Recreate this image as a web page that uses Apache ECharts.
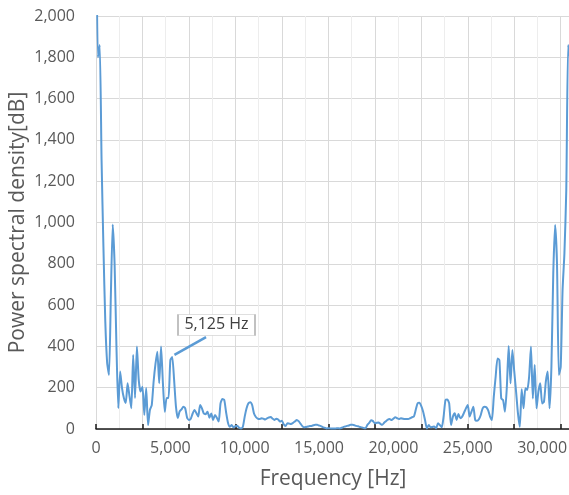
<!DOCTYPE html>
<html><head><meta charset="utf-8">
<script src="https://cdn.jsdelivr.net/npm/echarts@6/dist/echarts.min.js"></script>
<style>html,body{margin:0;padding:0;background:#fff}#chart{width:569px;height:495px}</style>
</head><body><div id="chart"></div>
<script>
// FFT bin width (Hz) – 256 bins, 0 … 31,875 Hz
const binWidthHz = 125;

// Power spectral density, 64 bins per block
const psdBins0to63 = [
  2600, 1800, 1860, 1300, 880, 520, 320, 262, 650, 990,
  800, 400, 100, 278, 198, 150, 126, 222, 160, 100,
  358, 150, 399, 237, 181, 205, 68, 198, 19, 92,
  116, 230, 315, 374, 222, 399, 222, 84, 150, 150,
  334, 349, 240, 110, 53, 85, 95, 108, 100, 55,
  44, 50, 75, 92, 77, 60, 116, 100, 75, 72,
  84, 55, 75, 44
];
const psdBins64to127 = [
  68, 55, 36, 124, 145, 140, 80, 30, 11, 19,
  8, 14, 16, 6, 3, 11, 60, 100, 125, 130,
  116, 75, 58, 50, 48, 52, 50, 46, 52, 56,
  58, 50, 44, 50, 46, 36, 40, 22, 15, 28,
  26, 24, 30, 36, 44, 38, 26, 14, 8, 10,
  12, 14, 15, 18, 20, 20, 17, 14, 9, 6,
  3, 4, 3, 2
];
const psdBins128to191 = [
  3, 3, 4, 3, 5, 9, 12, 15, 17, 20,
  20, 18, 15, 13, 10, 8, 5, 4, 20, 30,
  42, 38, 28, 30, 32, 25, 20, 30, 38, 46,
  48, 44, 50, 57, 52, 48, 52, 50, 48, 48,
  48, 52, 57, 60, 92, 124, 127, 111, 84, 44,
  3, 19, 8, 10, 12, 3, 28, 19, 8, 60,
  140, 143, 124, 19
];
const psdBins192to255 = [
  60, 76, 44, 73, 52, 60, 79, 100, 116, 60,
  84, 108, 44, 40, 47, 68, 100, 108, 105, 90,
  60, 44, 157, 253, 342, 334, 148, 140, 84, 200,
  402, 221, 382, 280, 180, 76, 11, 193, 100, 197,
  189, 253, 399, 148, 310, 100, 181, 221, 124, 132,
  229, 278, 100, 300, 754, 988, 803, 262, 300, 673,
  851, 1157, 1860, 1800
];

const xTickLabels = ['0', '5,000', '10,000', '15,000', '20,000', '25,000', '30,000'];
const yTickLabels = ['0', '200', '400', '600', '800', '1,000', '1,200', '1,400', '1,600', '1,800', '2,000'];

const annotationText = '5,125 Hz';
const annotatedPeak = [5125, 349];

const psd = [].concat(psdBins0to63, psdBins64to127, psdBins128to191, psdBins192to255);
const seriesData = psd.map((v, i) => [i * binWidthHz, v]);
const xMax = (psd.length - 1) * binWidthHz;

const FONT = '"Open Sans", "Noto Sans", sans-serif';
const chart = echarts.init(document.getElementById('chart'), null, {renderer: 'canvas'});
chart.setOption({
  animation: false,
  backgroundColor: '#ffffff',
  grid: {left: 96, top: 16, width: 474, height: 413, containLabel: false, outerBoundsMode: 'none'},
  xAxis: [
    {
      type: 'value', min: 0, max: xMax, interval: 3125, position: 'bottom',
      name: 'Frequency [Hz]', nameLocation: 'middle', nameGap: 40, nameMoveOverlap: false,
      nameTextStyle: {fontFamily: FONT, fontSize: 21, color: '#595959'},
      axisLine: {show: true, onZero: false, lineStyle: {color: '#1a1a1a', width: 1.5}},
      axisTick: {show: true, inside: true, length: 5, lineStyle: {color: '#1a1a1a', width: 1.5}},
      axisLabel: {show: false},
      splitLine: {show: true, lineStyle: {color: '#d9d9d9', width: 1}},
      minorTick: {show: false, splitNumber: 2},
      minorSplitLine: {show: true, lineStyle: {color: '#ededed', width: 1}}
    },
    {
      type: 'value', min: 0, max: xMax, interval: 5000, position: 'bottom',
      axisLine: {show: false, onZero: false},
      axisTick: {show: false},
      splitLine: {show: false},
      axisLabel: {
        show: true, showMaxLabel: false, margin: 11,
        fontFamily: FONT, fontSize: 16, color: '#595959',
        formatter: v => xTickLabels[Math.round(v / 5000)] || ''
      }
    }
  ],
  yAxis: {
    type: 'value', min: 0, max: 2000, interval: 200,
    name: 'Power spectral density[dB]', nameLocation: 'middle', nameGap: 67, nameMoveOverlap: false,
    nameTextStyle: {fontFamily: FONT, fontSize: 21, color: '#595959'},
    axisLine: {show: false},
    axisTick: {show: false},
    axisLabel: {
      margin: 21, fontFamily: FONT, fontSize: 16, color: '#595959',
      formatter: v => yTickLabels[Math.round(v / 200)] || ''
    },
    splitLine: {show: true, lineStyle: {color: '#d9d9d9', width: 1}}
  },
  series: [{
    type: 'line',
    xAxisIndex: 0,
    data: seriesData,
    showSymbol: false,
    smooth: 0.2,
    clip: true,
    lineStyle: {color: '#5b9bd5', width: 2},
    itemStyle: {color: '#5b9bd5'},
    markLine: {
      silent: true, animation: false,
      symbol: ['none', 'arrow'], symbolSize: [0, 11],
      label: {show: false},
      lineStyle: {color: '#5b9bd5', width: 2.5, type: 'solid'},
      data: [[{coord: [7400, 445]}, {coord: [annotatedPeak[0] + 150, annotatedPeak[1] + 10]}]]
    },
    markPoint: {
      silent: true, animation: false,
      data: [{
        coord: [8103, 504],
        symbol: 'rect', symbolSize: [77, 21],
        itemStyle: {color: '#ffffff', borderColor: '#bfbfbf', borderWidth: 1},
        label: {show: true, position: 'inside', formatter: annotationText,
                fontFamily: FONT, fontSize: 16, color: '#404040'}
      }]
    }
  }]
});
</script>
</body></html>
